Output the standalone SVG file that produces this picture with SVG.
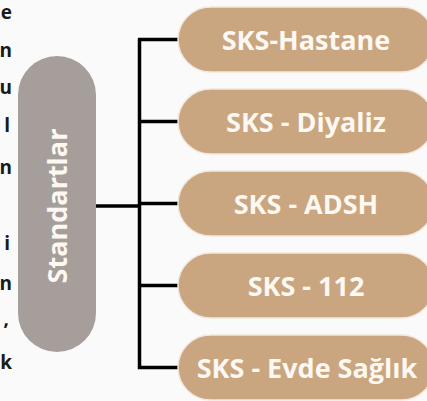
<svg xmlns="http://www.w3.org/2000/svg" width="427" height="401" viewBox="0 0 427 401">
<style>
.bg{fill:#fafafa}
.box{fill:#c9a680;stroke:#f1e8dd;stroke-width:1.5}
.pill{fill:#a59e9b}
.lbl{font-family:"Open Sans","Liberation Sans",sans-serif;font-weight:bold;font-size:27px;fill:#fdf8f2;text-anchor:middle}
.side{font-family:"Open Sans","Liberation Sans",sans-serif;font-weight:bold;font-size:19px;fill:#1a1a1a;text-anchor:end}
.conn{stroke:#000;stroke-width:3.5;fill:none}
</style>
<rect class="bg" x="0" y="0" width="427" height="401"/>
<g id="side-text">
<text class="side" x="12" y="19">e</text>
<text class="side" x="12" y="57">n</text>
<text class="side" x="12" y="94">u</text>
<text class="side" x="10" y="132">l</text>
<text class="side" x="12" y="174">n</text>
<text class="side" x="10" y="250">i</text>
<text class="side" x="12" y="290">n</text>
<text class="side" x="9" y="325">,</text>
<text class="side" x="12" y="369">k</text>
</g>
<g id="connectors">
<path class="conn" d="M96 206H139.5M139.5 38.5V369.2M138 39.5H179M139.5 121.5H179M139.5 203.5H179M139.5 285.5H179M138 367.5H179"/>
</g>
<g id="standartlar">
<rect class="pill" x="18" y="56" width="78" height="296" rx="39"/>
<text class="lbl" transform="translate(67,206) rotate(-90)">Standartlar</text>
</g>
<g id="sks-hastane">
<rect class="box" x="178" y="7" width="256" height="65" rx="32.5"/>
<text class="lbl" x="306" y="49.5">SKS-Hastane</text>
</g>
<g id="sks-diyaliz">
<rect class="box" x="178" y="89" width="256" height="65" rx="32.5"/>
<text class="lbl" x="306" y="131.5">SKS - Diyaliz</text>
</g>
<g id="sks-adsh">
<rect class="box" x="178" y="171" width="256" height="65" rx="32.5"/>
<text class="lbl" x="306" y="213.5">SKS - ADSH</text>
</g>
<g id="sks-112">
<rect class="box" x="178" y="253" width="256" height="65" rx="32.5"/>
<text class="lbl" x="306" y="295.5">SKS - 112</text>
</g>
<g id="sks-evde-saglik">
<rect class="box" x="178" y="335" width="256" height="65" rx="32.5"/>
<text class="lbl" x="307" y="377.5">SKS - Evde Sağlık</text>
</g>
</svg>
